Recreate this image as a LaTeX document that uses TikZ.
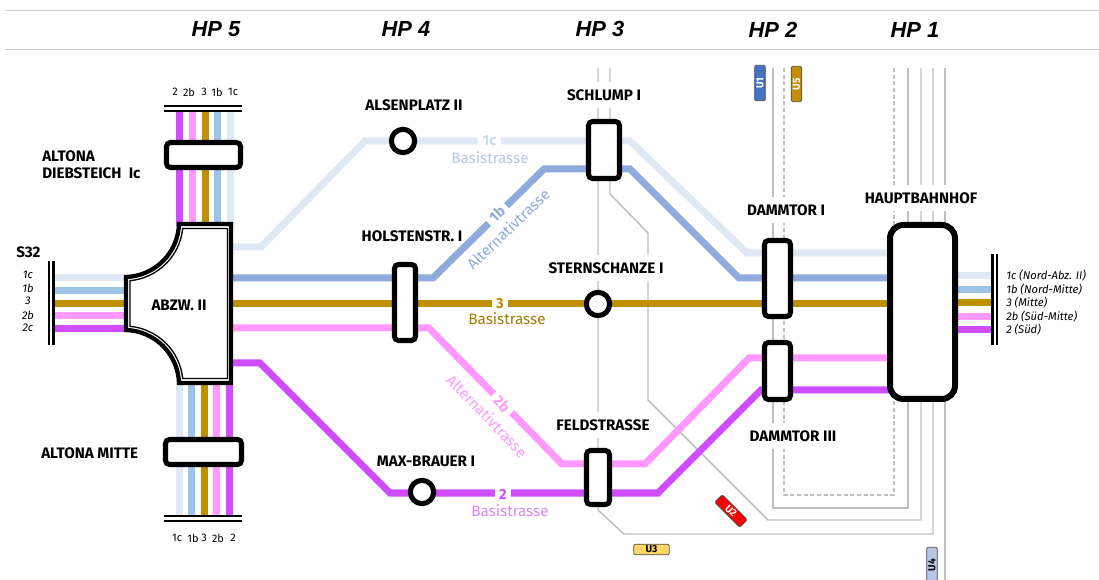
\documentclass[tikz,border=0pt]{standalone}
\usepackage{fontspec}
\setmainfont{Fira Sans}
\newfontfamily\hpfont{Liberation Sans}
\definecolor{cNa}{HTML}{DEE9F5}
\definecolor{cNb}{HTML}{8FAADC}
\definecolor{cNv}{HTML}{9DC3E6}
\definecolor{cMi}{HTML}{BF9000}
\definecolor{cSb}{HTML}{FF99FF}
\definecolor{cSu}{HTML}{CF4DFF}
\definecolor{cGrey}{HTML}{BFBFBF}
\definecolor{cBa}{HTML}{B4C7E7}
\definecolor{cUa}{HTML}{4472C4}
\definecolor{cUc}{HTML}{FFD966}
\tikzset{
  rail/.style={line width=5.25pt,draw=#1},
  subway/.style={line width=1.1pt,draw=cGrey},
  bar/.style={line width=1.6pt,draw=black},
  stationbox/.style 2 args={draw=black,line width=3.8pt,rounded corners=3pt,fill=white,minimum width=#1,minimum height=#2,inner sep=0pt},
  stationring/.style={circle,draw=black,line width=3.8pt,fill=white,minimum size=17.5pt,inner sep=0pt},
  stationname/.style={font=\bfseries\fontsize{11.4}{13}\selectfont,inner sep=0pt,align=left},
  cutname/.style={stationname,fill=white,minimum height=19pt},
  railnum/.style={font=\bfseries\fontsize{11}{12}\selectfont,text=#1,fill=white,inner xsep=3.5pt,inner ysep=1pt},
  railname/.style={font=\fontsize{11.4}{13}\selectfont,text=#1,inner sep=0pt},
  bundle/.style={font=\fontsize{8.2}{10}\selectfont,inner sep=0pt},
  side/.style={font=\itshape\fontsize{8.4}{10}\selectfont,inner sep=0pt},
  hp/.style={font=\hpfont\bfseries\itshape\fontsize{16.4}{19}\selectfont,inner sep=0pt},
  linetag/.style 2 args={draw=black!70,line width=.6pt,rounded corners=1pt,fill=#1,text=#2,minimum width=26.5pt,minimum height=8pt,inner sep=0pt,font=\bfseries\fontsize{7.6}{8}\selectfont},
}
\begin{document}
\begin{tikzpicture}[x=0.75pt,y=-0.75pt]
    \useasboundingbox (0,0) rectangle (1099,580);
    % header
    \coordinate (headAl) at (5,10);
    \coordinate (headAr) at (1099,10);
    \coordinate (headBl) at (5,49);
    \coordinate (headBr) at (1099,49);
    \draw[draw=black!20,line width=.7pt] (headAl) -- (headAr);
    \draw[draw=black!20,line width=.7pt] (headBl) -- (headBr);
    \node[hp] (hp5) at (216,29) {HP 5};
    \node[hp] (hp4) at (406,29) {HP 4};
    \node[hp] (hp3) at (600,29) {HP 3};
    \node[hp] (hp2) at (773,30) {HP 2};
    \node[hp] (hp1) at (915,30) {HP 1};
    % subway lines
    \coordinate (uA1) at (598,68);
    \coordinate (uA2) at (598,510);
    \coordinate (uA3) at (624,534);
    \coordinate (uA4) at (933,534);
    \coordinate (uA5) at (933,68);
    \coordinate (uB1) at (610,68);
    \coordinate (uB2) at (610,194);
    \coordinate (uB3) at (648,233);
    \coordinate (uB4) at (648,400);
    \coordinate (uB5) at (768,520);
    \coordinate (uB6) at (921,520);
    \coordinate (uB7) at (921,68);
    \coordinate (uC1) at (773,68);
    \coordinate (uC2) at (773,508);
    \coordinate (uC3) at (908,508);
    \coordinate (uC4) at (908,68);
    \coordinate (uD1) at (784,68);
    \coordinate (uD2) at (784,495);
    \coordinate (uD3) at (894,495);
    \coordinate (uD4) at (894,68);
    \coordinate (uE1) at (945,68);
    \coordinate (uE2) at (945,580);
    \draw[subway] (uA1) -- (uA2) -- (uA3) -- (uA4) -- (uA5);
    \draw[subway] (uB1) -- (uB2) -- (uB3) -- (uB4) -- (uB5) -- (uB6) -- (uB7);
    \draw[subway] (uC1) -- (uC2) -- (uC3) -- (uC4);
    \draw[subway,densely dashed] (uD1) -- (uD2) -- (uD3) -- (uD4);
    \draw[subway] (uE1) -- (uE2);
    % bundles around the junction
    \foreach \n/\y/\c in {a/278/cNa,b/291/cNv,c/304/cMi,d/316/cSb,e/329/cSu}{
      \coordinate (west\n) at (54,\y);
      \coordinate (abzw\n) at (128,\y);
      \draw[rail=\c] (west\n) -- (abzw\n);
    }
    \foreach \n/\x/\c in {a/179/cSu,b/192/cSb,c/205/cMi,d/217/cNv,e/230/cNa}{
      \coordinate (north\n) at (\x,111);
      \coordinate (abzu\n) at (\x,226);
      \draw[rail=\c] (north\n) -- (abzu\n);
    }
    \foreach \n/\x/\c in {a/179/cNa,b/191/cNv,c/204/cMi,d/216/cSb,e/229.5/cSu}{
      \coordinate (south\n) at (\x,516);
      \coordinate (abzd\n) at (\x,381);
      \draw[rail=\c] (south\n) -- (abzd\n);
    }
    \foreach \n/\y/\c in {a/276/cNa,b/290/cNv,c/303/cMi,d/317/cSb,e/330/cSu}{
      \coordinate (hbf\n) at (950,\y);
      \coordinate (east\n) at (992,\y);
      \draw[rail=\c] (hbf\n) -- (east\n);
    }
    % main lines
    \coordinate (aA) at (230,247);
    \coordinate (aB) at (261,247);
    \coordinate (aC) at (365,141);
    \coordinate (aD) at (630,141);
    \coordinate (aE) at (747,253);
    \coordinate (aF) at (895,253);
    \coordinate (bA) at (230,278);
    \coordinate (bB) at (433,278);
    \coordinate (bC) at (544,169);
    \coordinate (bD) at (630,169);
    \coordinate (bE) at (739,278);
    \coordinate (bF) at (895,278);
    \coordinate (cA) at (230,303.5);
    \coordinate (cB) at (895,303.5);
    \coordinate (dA) at (230,328);
    \coordinate (dB) at (429,328);
    \coordinate (dC) at (562,464);
    \coordinate (dD) at (645,464);
    \coordinate (dE) at (749,358);
    \coordinate (dF) at (895,358);
    \coordinate (eA) at (230,363);
    \coordinate (eB) at (260,363);
    \coordinate (eC) at (390,493);
    \coordinate (eD) at (658,493);
    \coordinate (eE) at (761,390);
    \coordinate (eF) at (895,390);
    \draw[rail=cNa] (aA) -- (aB) -- (aC) -- (aD) -- (aE) -- (aF);
    \draw[rail=cNb] (bA) -- (bB) -- (bC) -- (bD) -- (bE) -- (bF);
    \draw[rail=cMi] (cA) -- (cB);
    \draw[rail=cSb] (dA) -- (dB) -- (dC) -- (dD) -- (dE) -- (dF);
    \draw[rail=cSu] (eA) -- (eB) -- (eC) -- (eD) -- (eE) -- (eF);
    % junction block
    \draw[black,line width=3.2pt,fill=white] (179,224) .. controls (178,253) and (155,276) .. (126,277)
      -- (126,330) .. controls (155,331) and (178,354) .. (179,383) -- (231,383) -- (231,224) -- cycle;
    \draw[black,line width=1pt] (182.7,228.5) .. controls (179.9,256) and (158,278) .. (130,280.7)
      -- (130,326.3) .. controls (158,329) and (179.9,351) .. (182.7,378.5) -- (227.5,378.5) -- (227.5,228.5) -- cycle;
    \node[stationname] (abzwII) at (179,305) {ABZW. II};
    % double bars
    \coordinate (nbarAl) at (164,106);
    \coordinate (nbarAr) at (242,106);
    \coordinate (nbarBl) at (164,111);
    \coordinate (nbarBr) at (242,111);
    \coordinate (sbarAl) at (164,516);
    \coordinate (sbarAr) at (242,516);
    \coordinate (sbarBl) at (164,521);
    \coordinate (sbarBr) at (242,521);
    \coordinate (wbarAt) at (49,261);
    \coordinate (wbarAb) at (49,345);
    \coordinate (wbarBt) at (53.5,261);
    \coordinate (wbarBb) at (53.5,345);
    \coordinate (ebarAt) at (992.5,254);
    \coordinate (ebarAb) at (992.5,345);
    \coordinate (ebarBt) at (997,254);
    \coordinate (ebarBb) at (997,345);
    \draw[bar] (nbarAl) -- (nbarAr);
    \draw[bar] (nbarBl) -- (nbarBr);
    \draw[bar] (sbarAl) -- (sbarAr);
    \draw[bar] (sbarBl) -- (sbarBr);
    \draw[bar] (wbarAt) -- (wbarAb);
    \draw[bar] (wbarBt) -- (wbarBb);
    \draw[bar] (ebarAt) -- (ebarAb);
    \draw[bar] (ebarBt) -- (ebarBb);
    % stations
    \node[stationbox={55.5pt}{18.75pt}] (diebsteich) at (203.5,155) {};
    \node[stationbox={57pt}{18.75pt}] (mitte) at (203.5,452) {};
    \node[stationbox={15.75pt}{57pt}] (holsten) at (405,302.5) {};
    \node[stationbox={23.25pt}{42.75pt}] (schlump) at (604,150) {};
    \node[stationbox={17.25pt}{40.5pt}] (feld) at (598,477.5) {};
    \node[stationbox={19.5pt}{57pt}] (dammI) at (777.5,278.5) {};
    \node[stationbox={19.5pt}{42.75pt}] (dammIII) at (777.5,371) {};
    \node[stationbox={48.75pt}{130.5pt},line width=4.5pt,rounded corners=10pt] (hbf) at (922.5,312) {};
    \node[stationring] (alsen) at (403,141) {};
    \node[stationring] (stern) at (598,304) {};
    \node[stationring] (brauer) at (422,492) {};
    % station names
    \node[stationname,anchor=west] (altonaD) at (42,164.5) {ALTONA\\DIEBSTEICH\ \ Ic};
    \node[stationname,anchor=west] (altonaM) at (41,453) {ALTONA MITTE};
    \node[stationname,anchor=west] (s32) at (16,252) {S32};
    \node[stationname] (alsenN) at (414,105) {ALSENPLATZ II};
    \node[cutname] (schlumpN) at (604,95) {SCHLUMP I};
    \node[stationname] (holstenN) at (412,236) {HOLSTENSTR. I};
    \node[cutname] (sternN) at (606,268) {STERNSCHANZE I};
    \node[cutname] (feldN) at (603,425) {FELDSTRASSE};
    \node[stationname] (brauerN) at (426,461) {MAX-BRAUER I};
    \node[cutname] (dammIN) at (786,210) {DAMMTOR I};
    \node[cutname] (hbfN) at (921,198) {HAUPTBAHNHOF};
    \node[cutname] (dammIIIN) at (793,436) {DAMMTOR III};
    % line names
    \node[railnum=cNa!60!cBa] (num1c) at (489.5,141) {1c};
    \node[railname=cBa] (base1c) at (490,158) {Basistrasse};
    \node[railnum=cNb,rotate=44] (num1b) at (497,214) {1b};
    \node[railname=cNb,rotate=44] (alt1b) at (508,229) {Alternativtrasse};
    \node[railnum=cMi] (num3) at (500,304) {3};
    \node[railname=cMi!85!black] (base3) at (507,319) {Basistrasse};
    \node[railnum=cSb,rotate=-46] (num2b) at (502,404) {2b};
    \node[railname=cSb,rotate=-46] (alt2b) at (487,416) {Alternativtrasse};
    \node[railnum=cSu] (num2) at (503,494) {2};
    \node[railname=cSu!70!white] (base2) at (510,511) {Basistrasse};
    % track numbers
    \foreach \n/\x/\t in {a/175/2,b/189/2b,c/204/3,d/217/1b,e/233/1c}{
      \node[bundle] (top\n) at (\x,92) {\t};
    }
    \foreach \n/\x/\t in {a/177/1c,b/193/1b,c/204/3,d/218/2b,e/233/2}{
      \node[bundle] (bot\n) at (\x,538) {\t};
    }
    \foreach \n/\y/\t in {a/275/1c,b/288/1b,c/301/3,d/315/2b,e/328/2c}{
      \node[side] (lbl\n) at (28,\y) {\t};
    }
    \foreach \n/\y/\t in {a/276/1c (Nord-Abz. II),b/290/1b (Nord-Mitte),c/303/3 (Mitte),d/317/2b (Süd-Mitte),e/330/2 (Süd)}{
      \node[side,anchor=west] (rgt\n) at (1006,\y) {\t};
    }
    % line tags
    \node[linetag={cUa}{white},rotate=90] (tagU1) at (760,83) {U1};
    \node[linetag={cMi}{white},rotate=90] (tagU5) at (796.5,84) {U5};
    \node[linetag={red}{white},rotate=-45] (tagU2) at (731,511) {U2};
    \node[linetag={cUc}{black}] (tagU3) at (651.5,549.5) {U3};
    \node[linetag={cBa}{black},rotate=90] (tagU4) at (932,565) {U4};
\end{tikzpicture}
\end{document}
